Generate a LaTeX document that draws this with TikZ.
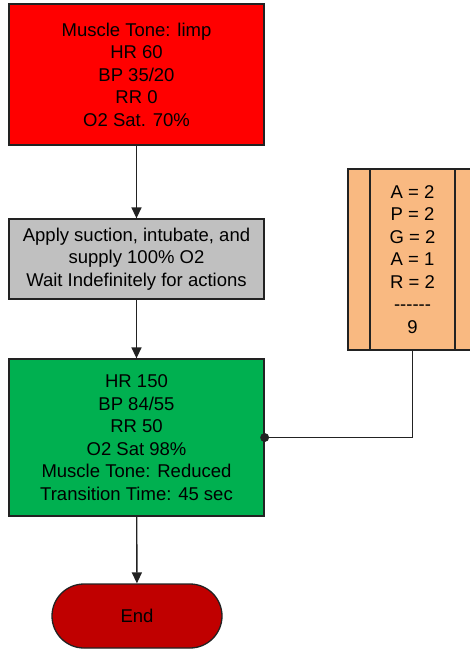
\documentclass[tikz,border=0pt]{standalone}
\usepackage{fontspec}
\setmainfont{Liberation Sans}
\usetikzlibrary{arrows.meta,shapes.misc}
\definecolor{boxred}{HTML}{FF0000}
\definecolor{boxgray}{HTML}{C0C0C0}
\definecolor{boxgreen}{HTML}{00B050}
\definecolor{boxorange}{HTML}{F9B981}
\definecolor{endred}{HTML}{C00000}
\definecolor{edge}{HTML}{222222}
\begin{document}
\begin{tikzpicture}[x=1pt,y=-1pt,
  every node/.style={font=\fontsize{18.5}{22.5}\selectfont, align=center, inner sep=0pt},
  flowbox/.style={draw=edge, line width=1.3pt, minimum width=255pt},
  conn/.style={draw=edge, line width=1.4pt},
  arr/.style={conn, -{Triangle[width=10pt,length=11pt]}},
  endterm/.style={draw=edge, line width=1.3pt, fill=endred, rounded rectangle, minimum width=170pt, minimum height=64pt}
]
\clip (0,0) rectangle (470,649);
\fill[white] (0,0) rectangle (470,649);

\node[flowbox, fill=boxred, minimum height=141pt] (start) at (136.5,74.5)
  {Muscle Tone: limp\\HR 60\\BP 35/20\\RR 0\\O2 Sat. 70\%};
\node[flowbox, fill=boxgray, minimum height=80pt] (act) at (136.5,259)
  {Apply suction, intubate, and\\supply 100\% O2\\Wait Indefinitely for actions};
\node[flowbox, fill=boxgreen, minimum height=157pt] (res) at (136.5,437.5)
  {HR 150\\BP 84/55\\RR 50\\O2 Sat 98\%\\Muscle Tone: Reduced\\Transition Time: 45 sec};
\node[endterm] (end) at (137,616) {End};

% score box
\fill[boxorange, draw=edge, line width=1.3pt] (348,169) rectangle (490,350);
\node[draw=edge, line width=1.3pt, fill=boxorange, minimum width=85pt, minimum height=181pt] (score) at (412.5,259.5)
  {A = 2\\P = 2\\G = 2\\A = 1\\R = 2\\{-}{-}{-}{-}{-}{-}\\9};

\draw[arr] (start) -- (act);
\draw[arr] (act) -- (res);
\draw[arr] (res) -- (end);
\draw[conn] (res.east) -| (score.south);
\fill[edge] (res.east) circle (4.5pt);
\end{tikzpicture}
\end{document}
